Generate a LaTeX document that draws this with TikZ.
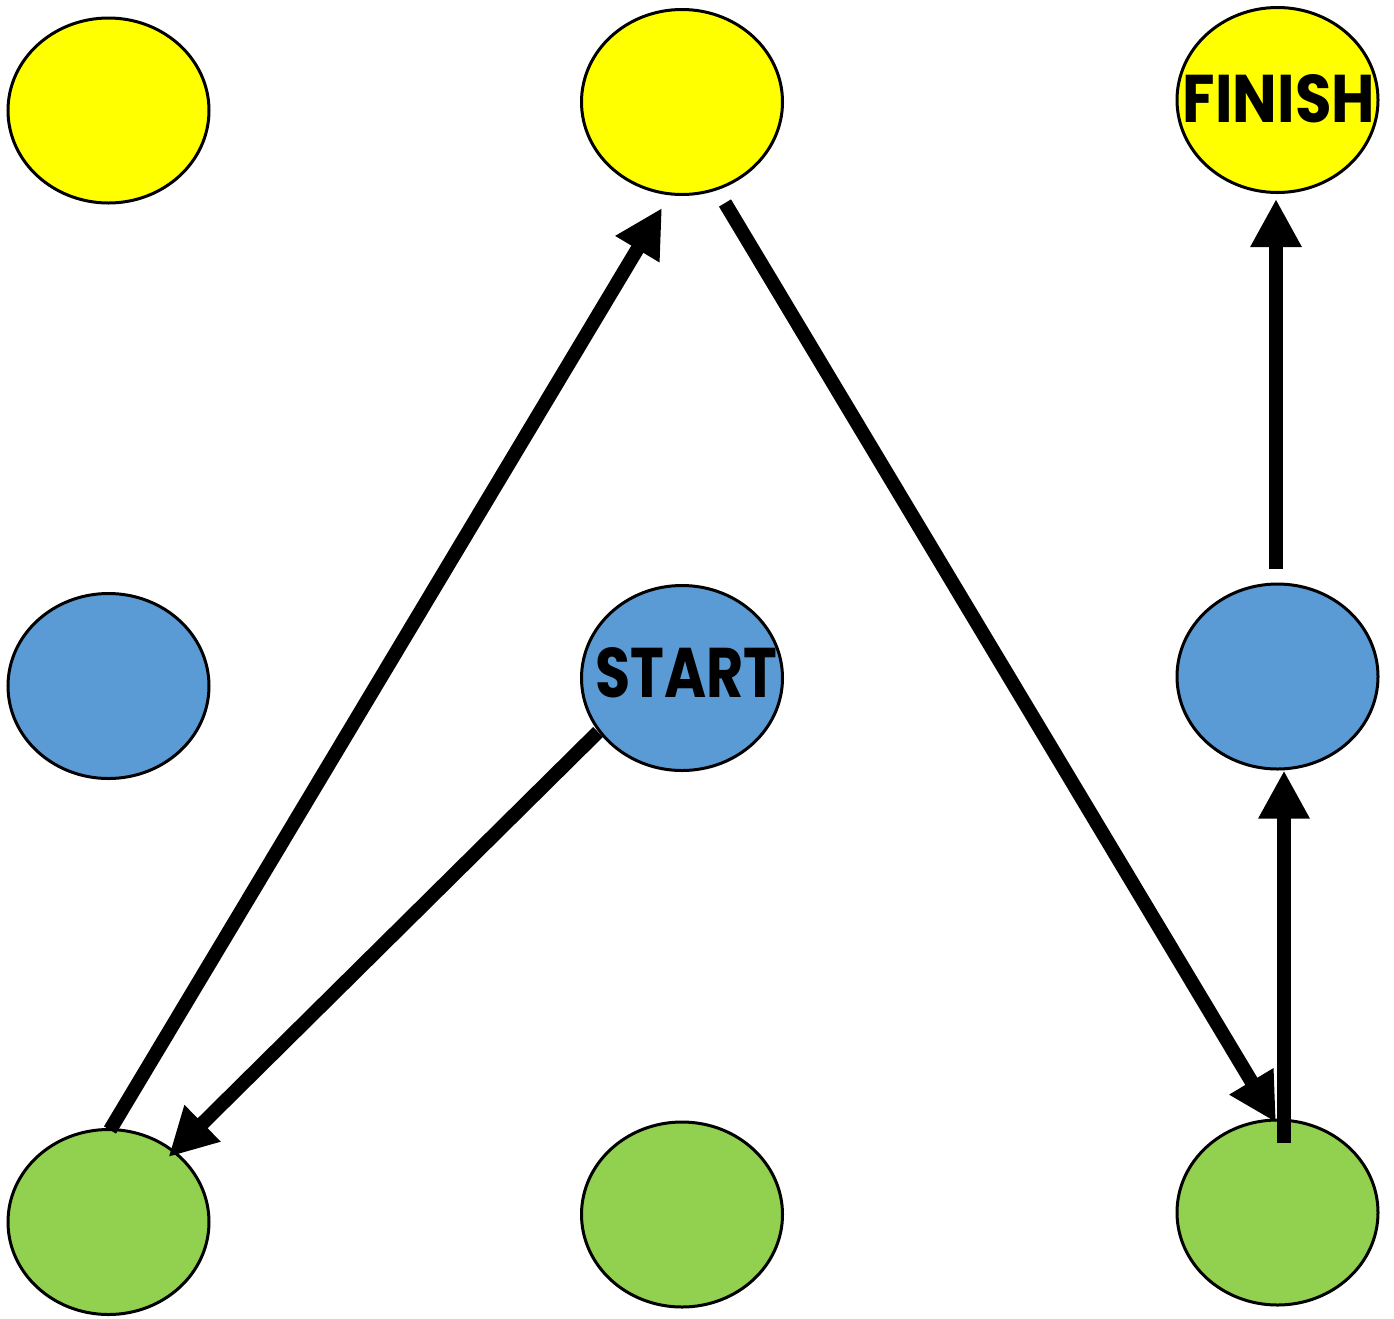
\documentclass[tikz,border=0pt]{standalone}
\usepackage{fontspec}
\newfontfamily\lblfont{Poppins}
\usetikzlibrary{shapes.geometric,arrows.meta,calc}
\definecolor{cyel}{HTML}{FFFF00}
\definecolor{cblue}{HTML}{5B9BD5}
\definecolor{cgreen}{HTML}{92D050}
\tikzset{
  spot/.style={ellipse, draw=black, line width=3pt, minimum width=201pt, minimum height=185pt, inner sep=0pt},
  ylw/.style={spot, fill=cyel},
  blu/.style={spot, fill=cblue},
  grn/.style={spot, fill=cgreen},
  conn/.style={line width=14pt, -{Triangle[length=48pt,width=48pt]}, line cap=butt},
  lbl/.style={font=\lblfont\bfseries}
}
\begin{document}
\begin{tikzpicture}[x=1pt,y=-1pt]
\useasboundingbox (0,0) rectangle (1394,1318);
% nodes
\node[ylw] (tl) at (108.5,110.5) {};
\node[ylw] (tm) at (682,102) {};
\node[ylw] (tr) at (1277.5,100) {};
\node[blu] (ml) at (108.5,686) {};
\node[blu] (st) at (682,678) {};
\node[blu] (mr) at (1277.5,676.5) {};
\node[grn] (bl) at (108.5,1222) {};
\node[grn] (bm) at (682,1214.5) {};
\node[grn] (br) at (1277.5,1212.5) {};
% labels
\node[lbl, inner sep=0pt] (stl) at (686.5,673) {\resizebox{182pt}{50pt}{START}};
\node[lbl, inner sep=0pt] (fnl) at (1279,99) {\resizebox{192pt}{48pt}{FINISH}};
% connector end points
\coordinate (a1s) at ($(st)+(-84,54)$);
\coordinate (a1e) at ($(bl)+(60,-65)$);
\coordinate (a2s) at ($(bl)+(1.5,-92)$);
\coordinate (a2e) at ($(tm)+(-20,106)$);
\coordinate (a3s) at ($(tm)+(43,101)$);
\coordinate (a3e) at ($(br)+(-1.5,-90)$);
\coordinate (a4s) at ($(br)+(6.5,-70)$);
\coordinate (a4e) at ($(mr)+(6.5,94)$);
\coordinate (a5s) at ($(mr)+(-1.5,-108)$);
\coordinate (a5e) at ($(tr)+(-1.5,99)$);
% connectors
\draw[conn] (a1s) -- (a1e);
\draw[conn] (a2s) -- (a2e);
\draw[conn] (a3s) -- (a3e);
\draw[conn] (a4s) -- (a4e);
\draw[conn] (a5s) -- (a5e);
\end{tikzpicture}
\end{document}
